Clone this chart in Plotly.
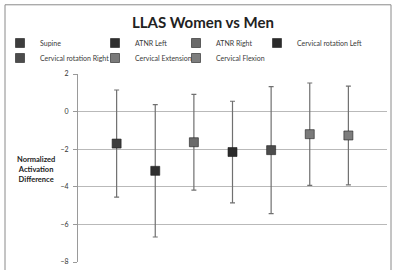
import plotly.graph_objects as go

categories = ["Supine", "ATNR Left", "ATNR Right", "Cervical rotation Left",
              "Cervical rotation Right", "Cervical Extension", "Cervical Flexion"]
positions = [1, 2, 3, 4, 5, 6, 7]
means = [-1.70, -3.15, -1.63, -2.15, -2.05, -1.20, -1.27]
errors = [2.85, 3.52, 2.55, 2.70, 3.38, 2.72, 2.63]
colors = ["#3d3d3d", "#2f2f2f", "#6a6a6a", "#2b2b2b", "#4c4c4c", "#7a7a7a", "#7d7d7d"]
y_ticks = [2, 0, -2, -4, -6, -8]

W, H = 394, 270
L, R, T, B = 78, 7, 73.5, 7.7
pw, ph = W - L - R, H - T - B

# legend text start (px) and row centre (px) for each entry
leg_x = [40, 135, 216, 297, 40, 135, 216]
leg_y = [41, 41, 41, 41, 56, 56, 56]

fig = go.Figure()
legends = {}
for i, (name, x, m, e, c) in enumerate(zip(categories, positions, means, errors, colors)):
    lname = "legend" if i == 0 else f"legend{i + 1}"
    fig.add_trace(go.Scatter(
        x=[x], y=[m], name=name, mode="markers", legend=lname,
        marker=dict(symbol="square", size=9, color=c, line=dict(color="#1e1e1e", width=0.6)),
        error_y=dict(type="data", array=[e], visible=True, color="#707070", thickness=1.2, width=2.5),
    ))
    legends[lname] = dict(xref="container", yref="container",
                          x=(leg_x[i] - 40) / W, xanchor="left",
                          y=1 - (leg_y[i] + 2) / H, yanchor="middle",
                          itemwidth=30, bgcolor="rgba(0,0,0,0)", borderwidth=0,
                          font=dict(size=7, color="#3a3a3a"))

fig.update_layout(
    width=W, height=H,
    margin=dict(l=L, r=R, t=T, b=B, autoexpand=False),
    paper_bgcolor="white", plot_bgcolor="white",
    font=dict(family="Lato, Liberation Sans, sans-serif", color="#333", size=7),
    title=dict(text="<b>LLAS Women vs Men</b>", x=0.515, xanchor="center",
               y=1 - 23 / H, yanchor="middle", yref="container",
               font=dict(size=15, color="#222")),
    showlegend=True,
    xaxis=dict(range=[0, 8], showgrid=False, zeroline=False, showticklabels=False,
               ticks="", showline=False, fixedrange=True),
    yaxis=dict(range=[-8, 2], tickvals=y_ticks, showgrid=True, gridcolor="#b9b9b9", gridwidth=1,
               zeroline=False, showline=True, linecolor="#9a9a9a", linewidth=1,
               ticks="outside", ticklen=4, tickcolor="#9a9a9a",
               tickfont=dict(size=7, color="#333"), ticklabelstandoff=3),
    annotations=[dict(text="<b>Normalized<br>Activation<br>Difference</b>", xref="paper", yref="paper",
                      x=(36 - L) / pw, y=(H - B - 169) / ph, xanchor="center", yanchor="middle",
                      showarrow=False, align="center", font=dict(size=7.5, color="#222"))],
    shapes=[dict(type="rect", xref="paper", yref="paper",
                 x0=(5 - L) / pw, x1=(391 - L) / pw, y0=(H - B - 275) / ph, y1=(H - B - 4) / ph,
                 line=dict(color="#8a8a8a", width=1), fillcolor="rgba(0,0,0,0)", layer="below")],
    **legends,
)

fig.write_html("out.html", config={"displayModeBar": False},
               post_script="document.body.style.margin='0';")
